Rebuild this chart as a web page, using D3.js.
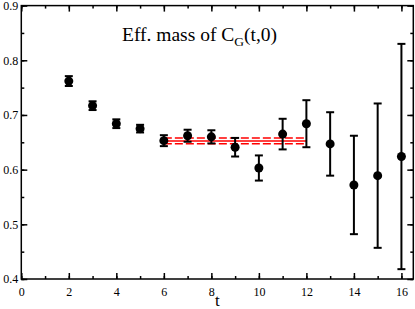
<!DOCTYPE html>
<html><head><meta charset="utf-8">
<script src="https://cdn.jsdelivr.net/npm/d3@7"></script>
<style>body{margin:0;background:#fff}svg{display:block}text{font-family:"Liberation Serif","Times New Roman",serif}</style>
</head><body><svg id="c" width="415" height="309"></svg>
<script>
const tValues = [2,3,4,5,6,7,8,9,10,11,12,13,14,15,16];
const massValues = [0.762,0.717,0.684,0.675,0.653,0.662,0.660,0.641,0.603,0.665,0.684,0.647,0.572,0.589,0.624];
const massErrors = [0.009,0.008,0.008,0.007,0.010,0.011,0.012,0.017,0.023,0.028,0.043,0.058,0.090,0.132,0.206];
const fitRange = [6,12];
const fitValue = 0.6525;
const fitError = 0.0053;
const xTicks = [0,2,4,6,8,10,12,14,16];
const yTicks = [0.4,0.5,0.6,0.7,0.8,0.9];

const svg = d3.select("#c");
const L=21.3, R=413.3, T=5.6, B=279;
const x = d3.scaleLinear().domain([0,16.5]).range([L,R]);
const y = d3.scaleLinear().domain([0.4,0.9]).range([B,T]);

const xMinor = d3.range(0,17,1), yMinor = d3.range(0.4,0.901,0.05);
function ax(gen, minor, major, tr, label){
  const g1 = svg.append("g").attr("transform",tr).call(gen.tickValues(minor).tickSizeInner(-3).tickSizeOuter(0).tickFormat(""));
  g1.select(".domain").remove();
  const g2 = svg.append("g").attr("transform",tr).call(gen.tickValues(major).tickSizeInner(-6).tickSizeOuter(0).tickFormat(label?d3.format(label):""));
  g2.select(".domain").remove();
  [g1,g2].forEach(g=>{g.attr("font-family",null);g.selectAll("line").attr("stroke","#000").attr("stroke-width",1.5);});
  return g2;
}
const gb = ax(d3.axisBottom(x), xMinor, xTicks, `translate(0,${B})`, "d");
gb.selectAll("text").attr("font-size",12).attr("y",8).attr("dy","0.71em").attr("fill","#000");
ax(d3.axisTop(x), xMinor, xTicks, `translate(0,${T})`, null);
const gl = ax(d3.axisLeft(y), yMinor, yTicks, `translate(${L},0)`, ".1f");
gl.selectAll("text").attr("font-size",12).attr("x",-3).attr("fill","#000");
ax(d3.axisRight(y), yMinor, yTicks, `translate(${R},0)`, null);
svg.append("rect").attr("x",L).attr("y",T).attr("width",R-L).attr("height",B-T).attr("fill","none").attr("stroke","#000").attr("stroke-width",1.5);

// fit band
const fit = svg.append("g");
[[fitValue,null],[fitValue+fitError,"8,3"],[fitValue-fitError,"8,3"]].forEach(([v,d])=>{
  fit.append("line").attr("x1",x(fitRange[0])).attr("x2",x(fitRange[1])).attr("y1",y(v)).attr("y2",y(v))
    .attr("stroke","#ff0000").attr("stroke-width",1.5).attr("stroke-dasharray",d);
});

// points
const pts = svg.append("g");
tValues.forEach((t,i)=>{
  const cx=x(t), v=massValues[i], e=massErrors[i];
  pts.append("line").attr("x1",cx).attr("x2",cx).attr("y1",y(v-e)).attr("y2",y(v+e)).attr("stroke","#000").attr("stroke-width",2);
  [v-e,v+e].forEach(w=>pts.append("line").attr("x1",cx-4).attr("x2",cx+4).attr("y1",y(w)).attr("y2",y(w)).attr("stroke","#000").attr("stroke-width",2));
  pts.append("circle").attr("cx",cx).attr("cy",y(v)).attr("r",4.5).attr("fill","#000");
});

// title
const title = svg.append("text").attr("x",122).attr("y",41).attr("font-size",19.5).attr("fill","#000");
title.append("tspan").text("Eff. mass of C");
title.append("tspan").attr("font-size",13.5).attr("dy",4.5).text("G");
title.append("tspan").attr("dy",-4.5).text("(t,0)");

svg.append("text").attr("x",(L+R)/2).attr("y",306).attr("text-anchor","middle").attr("font-size",17).attr("fill","#000").text("t");
</script></body></html>
